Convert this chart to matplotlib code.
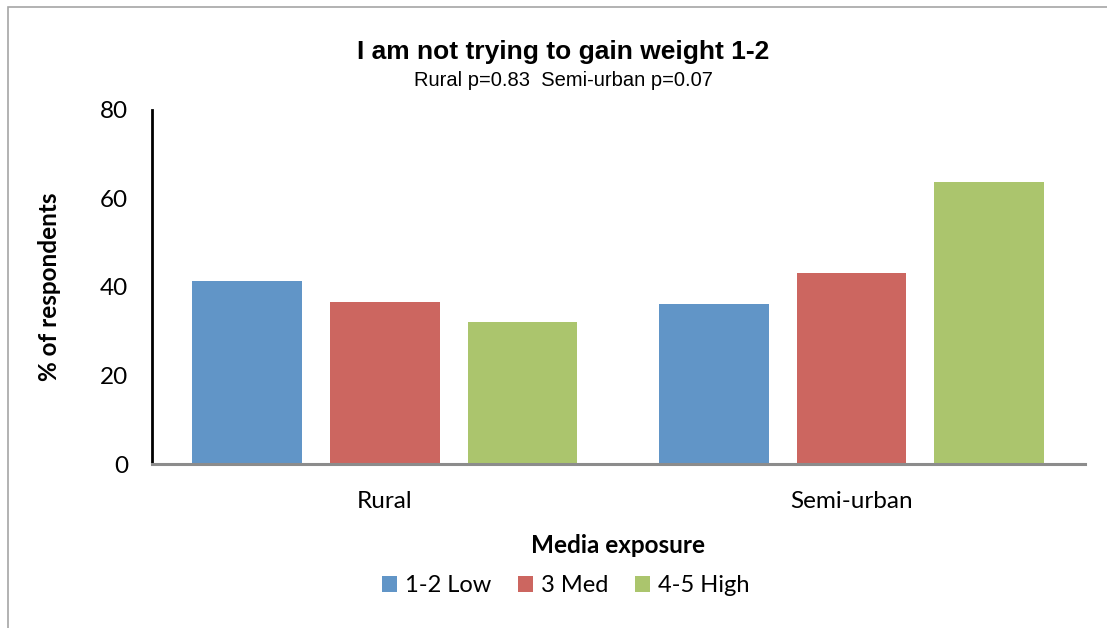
import numpy as np
import matplotlib.pyplot as plt
from matplotlib.patches import Rectangle

# survey results, % of respondents
regions = ['Rural', 'Semi-urban']
levels = ['1-2 Low', '3 Med', '4-5 High']
low = [41.3, 36.1]
med = [36.5, 43.1]
high = [32.0, 63.6]
colors = ['#6195c7', '#cc6660', '#abc56d']

fig = plt.figure(figsize=(11.07, 6.28), dpi=100)
ax = fig.add_axes([0.137, 0.2607, 0.843, 0.5649])

x = np.arange(len(regions))
width = 0.235
step = 0.295
for i, (vals, lab, c) in enumerate(zip([low, med, high], levels, colors)):
    ax.bar(x + (i - 1) * step, vals, width, color=c, label=lab)

ax.set_xlim(-0.5, 1.5)
ax.set_ylim(0, 80)
ax.set_yticks([0, 20, 40, 60, 80])
ax.set_xticks(x)
ax.set_xticklabels(regions, fontsize=17.5, family='Lato')
ax.tick_params(axis='y', labelsize=17.5, length=0, pad=17)
ax.tick_params(axis='x', length=0, pad=19)
for t in ax.get_yticklabels():
    t.set_family('Lato')

ax.spines['top'].set_visible(False)
ax.spines['right'].set_visible(False)
ax.spines['left'].set_color('black')
ax.spines['left'].set_linewidth(2)
ax.spines['bottom'].set_color('#8c8c8c')
ax.spines['bottom'].set_linewidth(2.2)

ax.set_ylabel('% of respondents', fontsize=17.5, fontweight='bold', family='Lato', labelpad=28)
ax.set_xlabel('Media exposure', fontsize=17.5, fontweight='bold', family='Lato', labelpad=16)

fig.text(0.509, 0.917, 'I am not trying to gain weight 1-2', ha='center', va='center',
         fontsize=19, fontweight='bold', family='Liberation Sans')
fig.text(0.509, 0.872, 'Rural p=0.83  Semi-urban p=0.07', ha='center', va='center',
         fontsize=14.5, family='Liberation Sans')

leg = fig.legend(loc='center', bbox_to_anchor=(0.511, 0.067), ncol=3, frameon=False,
                 prop={'family': 'Lato', 'size': 17}, handlelength=0.65, handleheight=0.65,
                 handletextpad=0.35, columnspacing=1.1)

# outer chart frame
fig.patches.append(Rectangle((8 / 1107, -0.1), 1.2, 1 - 7 / 628 + 0.1, transform=fig.transFigure,
                             fill=False, edgecolor='#a6a6a6', linewidth=1.2))

fig.savefig('out.png', dpi=100)
